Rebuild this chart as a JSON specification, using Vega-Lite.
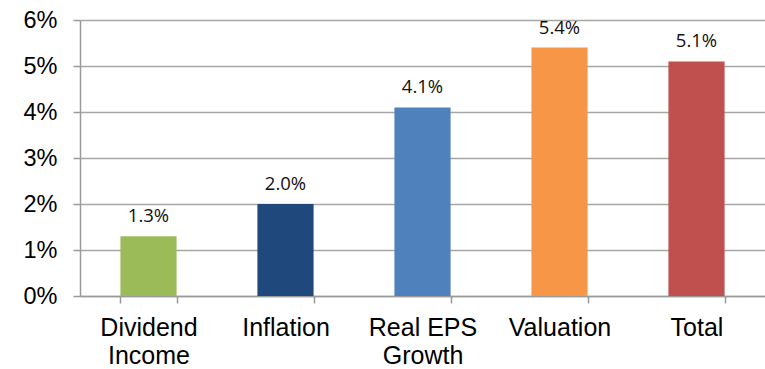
{
  "$schema": "https://vega.github.io/schema/vega-lite/v6.json",
  "autosize": {"type": "none"},
  "padding": {"left": 80, "top": 20, "right": 0, "bottom": 73},
  "width": 685,
  "height": 276,
  "background": "white",
  "data": {
    "values": [
      {"component": "Dividend Income", "value": 0.013, "color": "#9BBB59"},
      {"component": "Inflation", "value": 0.020, "color": "#1F497D"},
      {"component": "Real EPS Growth", "value": 0.041, "color": "#4F81BD"},
      {"component": "Valuation", "value": 0.054, "color": "#F79646"},
      {"component": "Total", "value": 0.051, "color": "#C0504D"}
    ]
  },
  "config": {
    "view": {"stroke": null},
    "axis": {
      "labelFont": "Liberation Sans",
      "labelColor": "#000000",
      "domainColor": "#9a9a9a",
      "tickColor": "#9a9a9a",
      "gridColor": "#a6a6a6",
      "domainWidth": 1.5,
      "tickWidth": 1.5,
      "gridWidth": 1.3
    }
  },
  "encoding": {
    "x": {
      "field": "component",
      "type": "nominal",
      "sort": null,
      "scale": {"paddingInner": 0.59, "paddingOuter": 0.295},
      "axis": {
        "title": null,
        "labelAngle": 0,
        "labelFontSize": 25,
        "labelLineHeight": 28,
        "labelBaseline": "top",
        "labelPadding": 12,
        "tickSize": 7,
        "tickBand": "extent",
        "grid": false,
        "labelExpr": "datum.label == 'Dividend Income' ? ['Dividend', 'Income'] : datum.label == 'Real EPS Growth' ? ['Real EPS', 'Growth'] : datum.label"
      }
    },
    "y": {
      "field": "value",
      "type": "quantitative",
      "scale": {"domain": [0, 0.06], "nice": false},
      "axis": {
        "title": null,
        "format": ".0%",
        "values": [0, 0.01, 0.02, 0.03, 0.04, 0.05, 0.06],
        "labelFontSize": 23.5,
        "labelPadding": 16,
        "tickSize": 7,
        "grid": true
      }
    }
  },
  "layer": [
    {
      "mark": {"type": "bar"},
      "encoding": {
        "color": {"field": "color", "type": "nominal", "scale": null}
      }
    },
    {
      "mark": {
        "type": "text",
        "baseline": "alphabetic",
        "dy": -14,
        "font": "Open Sans",
        "fontSize": 18.5,
        "color": "#111111"
      },
      "encoding": {
        "text": {"field": "value", "type": "quantitative", "format": ".1%"}
      }
    }
  ]
}
